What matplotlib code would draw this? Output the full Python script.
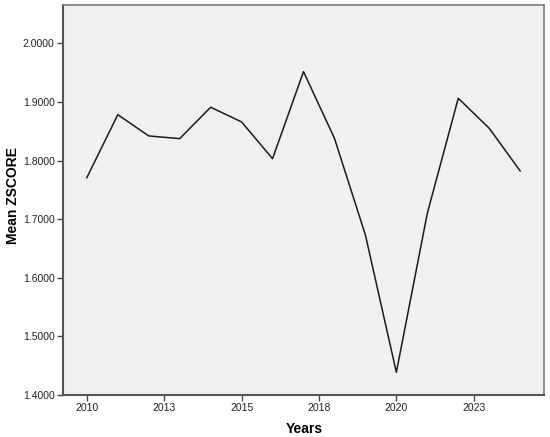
import matplotlib
matplotlib.use("Agg")
import matplotlib.pyplot as plt
import numpy as np

years = [2010, 2011, 2012, 2013, 2014, 2015, 2016, 2017,
         2018, 2019, 2020, 2021, 2022, 2023, 2024]
mean_zscore = [1.7708, 1.8783, 1.8420, 1.8374, 1.8910, 1.8659, 1.8032, 1.9517,
               1.8380, 1.6730, 1.4387, 1.7100, 1.9063, 1.8551, 1.7823]

# SPSS style scale axis: ticks every 2.5 years, shown with no decimals
xtick_pos = [2010, 2012.5, 2015, 2017.5, 2020, 2022.5]
xtick_labels = ["2010", "2013", "2015", "2018", "2020", "2023"]
ytick_pos = [1.4, 1.5, 1.6, 1.7, 1.8, 1.9, 2.0]

plt.rcParams['font.family'] = ['Liberation Sans', 'DejaVu Sans']

W, H = 550, 437
fig = plt.figure(figsize=(W / 100, H / 100), dpi=100)
ax = fig.add_axes([63 / W, 1 - 395 / H, (544 - 63) / W, (395 - 5) / H])
ax.set_facecolor("#f0f0f0")

ax.plot(years, mean_zscore, color="#1a1a1a", linewidth=1.1)

ax.set_xlim(2009.23, 2024.77)
ax.set_ylim(1.4, 2.0654)
ax.set_xticks(xtick_pos, xtick_labels)
ax.set_yticks(ytick_pos, [f"{v:.4f}" for v in ytick_pos])
ax.tick_params(axis="both", direction="out", length=4.5, width=1, color="#444444",
               labelsize=7.5, labelcolor="#222222", pad=1.5)

for s in ax.spines.values():
    s.set_color("#7a7a7a")
    s.set_linewidth(1.2)
ax.spines["left"].set_color("#555555")
ax.spines["bottom"].set_color("#555555")
ax.spines["left"].set_linewidth(1.5)
ax.spines["bottom"].set_linewidth(1.5)

# axis titles placed where the reference has them
fig.text(304 / W, 1 - 429 / H, "Years", fontsize=10, fontweight="bold",
         ha="center", va="center")
fig.text(13 / W, 1 - 196 / H, "Mean ZSCORE", fontsize=10, fontweight="bold",
         ha="center", va="center", rotation=90)

plt.savefig("out.png", dpi=100)
